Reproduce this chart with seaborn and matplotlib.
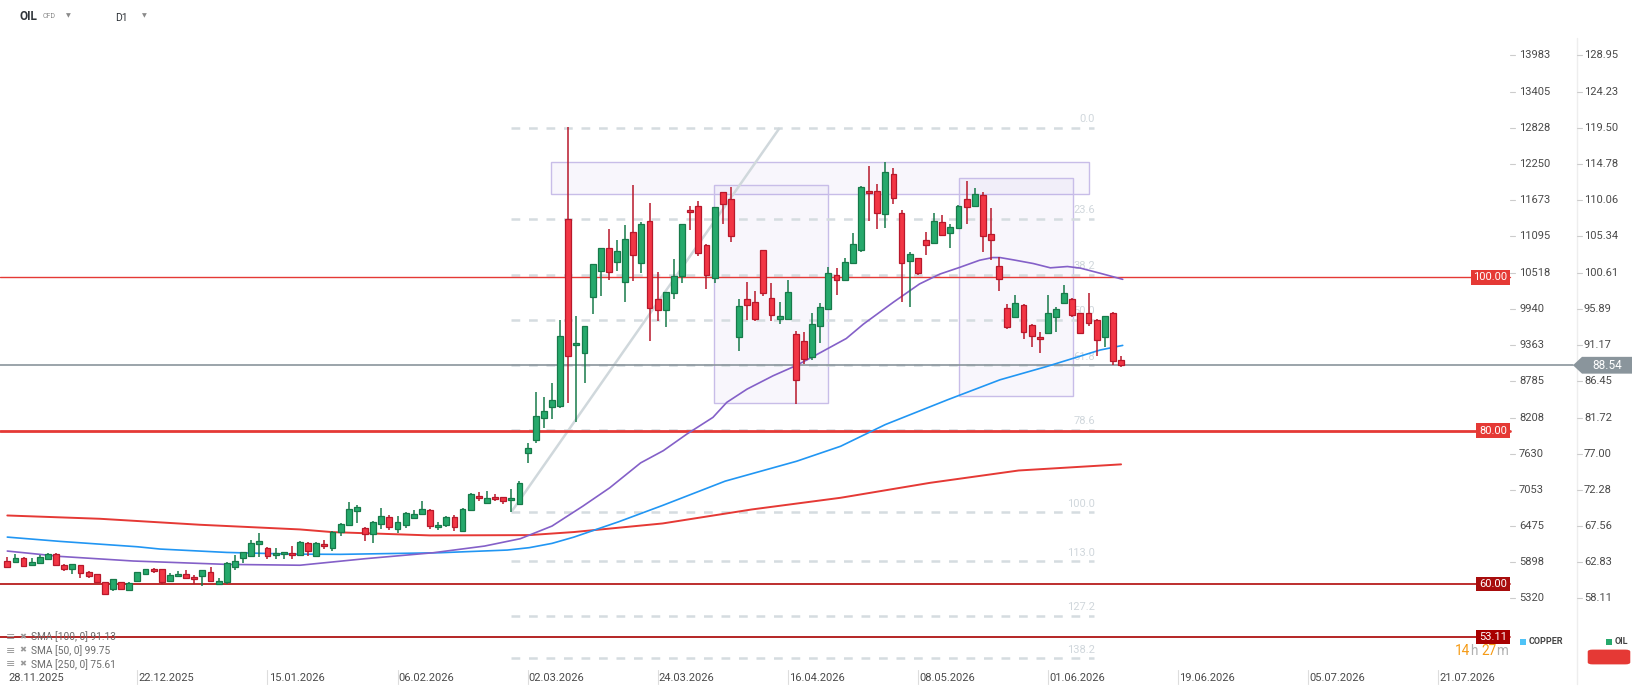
import numpy as np
import pandas as pd
import seaborn as sns
import matplotlib.pyplot as plt
from matplotlib import transforms
from matplotlib.patches import Rectangle, Polygon, FancyBboxPatch

# OIL CFD, daily bars, bar 0 = 28.11.2025
opens = [63.04, 62.91, 63.43, 62.52, 62.78, 63.30, 63.95, 62.52, 61.91, 62.47,
         61.56, 61.30, 60.26, 59.35, 60.26, 59.22, 60.39, 61.30, 61.95, 61.95,
         60.43, 61.04, 61.30, 60.91, 61.04, 61.56, 60.00, 60.22, 62.21, 63.39,
         63.69, 65.21, 64.69, 63.78, 63.91, 64.04, 63.82, 65.39, 63.69, 65.26,
         64.73, 66.82, 67.73, 69.55, 67.34, 66.56, 67.86, 68.77, 67.21, 67.73,
         68.64, 69.16, 69.68, 67.47, 67.73, 68.77, 66.95, 69.68, 71.51, 70.59,
         71.37, 71.37, 70.98, 70.41, 77.14, 78.74, 81.61, 83.04, 83.22, 107.61,
         91.17, 90.13, 97.39, 100.78, 103.83, 101.96, 99.35, 105.91, 101.83, 107.35,
         97.17, 95.74, 97.91, 100.13, 108.78, 109.30, 104.22, 99.87, 111.13, 110.22,
         92.17, 97.17, 96.78, 103.57, 97.30, 94.57, 94.52, 92.61, 91.64, 89.57,
         93.62, 95.91, 100.30, 99.66, 101.85, 103.53, 111.29, 111.29, 108.32, 113.49,
         108.45, 102.11, 102.50, 104.83, 104.44, 107.28, 105.73, 106.38, 110.26, 109.35,
         110.78, 105.60, 101.47, 96.03, 94.87, 96.42, 93.84, 92.28, 92.80, 94.87,
         96.68, 97.20, 95.39, 95.39, 94.48, 92.21, 95.33, 89.23]
highs = [63.48, 63.87, 63.50, 63.43, 63.78, 64.08, 64.00, 62.55, 62.65, 62.50,
         61.74, 61.35, 60.30, 60.70, 60.30, 60.20, 61.60, 62.00, 62.08, 62.00,
         61.48, 61.65, 61.82, 61.17, 61.85, 62.26, 60.78, 62.86, 63.82, 64.20,
         65.77, 66.64, 64.86, 64.69, 64.20, 64.99, 65.60, 65.45, 65.45, 65.78,
         66.90, 67.90, 70.64, 70.25, 67.40, 68.20, 69.86, 69.03, 68.90, 69.35,
         69.60, 70.77, 69.75, 68.12, 68.85, 69.03, 69.90, 71.85, 71.94, 72.07,
         71.77, 71.40, 72.46, 73.45, 78.39, 85.09, 84.43, 86.26, 94.43, 119.57,
         95.00, 93.70, 101.80, 103.90, 106.35, 104.91, 106.87, 112.09, 107.20, 109.74,
         100.70, 98.10, 102.39, 107.00, 109.30, 110.00, 104.30, 109.20, 111.20, 111.83,
         97.17, 99.39, 98.22, 103.60, 99.26, 96.78, 99.65, 93.00, 92.93, 95.39,
         96.72, 101.38, 101.21, 102.50, 105.78, 111.90, 114.57, 112.20, 115.09, 114.31,
         108.84, 103.28, 102.55, 105.86, 108.35, 108.20, 107.03, 109.40, 112.59, 111.68,
         111.12, 109.09, 102.63, 96.55, 97.72, 96.50, 93.90, 92.93, 97.72, 96.16,
         99.00, 97.30, 95.40, 97.97, 94.55, 94.94, 95.50, 89.75]
lows = [62.20, 62.85, 62.35, 62.30, 62.65, 63.25, 62.50, 61.74, 61.30, 60.78,
        60.78, 60.09, 58.65, 59.13, 59.30, 59.05, 60.35, 61.25, 61.48, 60.00,
        60.40, 61.00, 60.61, 60.00, 59.74, 60.22, 59.87, 60.00, 61.82, 62.73,
        63.52, 63.52, 63.26, 63.26, 63.26, 63.26, 63.70, 63.69, 63.60, 64.60,
        64.34, 66.25, 67.70, 67.99, 65.65, 65.39, 67.21, 67.08, 66.69, 67.34,
        68.60, 69.10, 67.21, 67.08, 67.47, 66.95, 66.90, 69.60, 70.85, 70.46,
        70.77, 70.46, 69.42, 70.30, 75.75, 78.35, 80.30, 81.50, 83.00, 83.57,
        81.09, 86.17, 95.22, 97.61, 99.61, 100.87, 96.74, 99.48, 100.52, 91.65,
        94.26, 93.48, 97.13, 99.26, 106.17, 102.74, 98.43, 99.22, 106.96, 104.61,
        90.35, 94.43, 94.26, 97.57, 94.35, 93.91, 94.50, 83.48, 88.71, 89.22,
        91.47, 95.80, 97.67, 99.60, 101.80, 103.30, 107.33, 106.25, 106.47, 109.61,
        96.81, 96.12, 100.30, 102.89, 104.30, 105.35, 103.88, 106.38, 107.03, 109.30,
        103.28, 102.24, 98.23, 93.32, 94.80, 91.90, 90.86, 90.09, 92.67, 92.93,
        96.55, 94.87, 92.67, 93.71, 89.70, 90.92, 88.60, 88.28]
closes = [62.26, 63.43, 62.39, 62.91, 63.56, 63.95, 62.52, 61.91, 62.60, 61.39,
          61.00, 60.26, 58.70, 60.65, 59.35, 60.13, 61.56, 61.95, 61.65, 60.26,
          61.17, 61.30, 60.78, 60.65, 61.82, 60.39, 60.39, 62.73, 62.99, 64.17,
          65.34, 65.60, 63.65, 64.04, 64.17, 63.78, 65.52, 64.34, 65.39, 65.00,
          66.82, 67.86, 69.81, 70.07, 66.56, 68.12, 68.90, 67.47, 68.12, 69.29,
          69.16, 69.81, 67.60, 67.73, 68.77, 67.47, 69.81, 71.77, 71.24, 71.24,
          71.11, 70.85, 71.24, 73.14, 77.79, 81.87, 82.52, 83.95, 92.35, 89.74,
          91.43, 93.65, 101.74, 103.83, 100.65, 103.43, 105.00, 102.87, 106.96, 95.96,
          95.74, 98.04, 100.13, 106.96, 108.52, 103.13, 100.26, 109.17, 109.57, 105.35,
          96.26, 96.39, 94.52, 97.91, 95.04, 94.96, 98.09, 86.61, 89.31, 93.97,
          96.12, 100.56, 99.66, 101.98, 104.31, 111.81, 111.03, 108.45, 113.75, 110.39,
          101.85, 103.02, 100.56, 104.18, 107.41, 105.47, 106.64, 109.35, 109.22, 110.91,
          105.34, 104.83, 99.78, 93.58, 96.68, 92.93, 92.41, 91.90, 95.39, 95.91,
          97.97, 95.13, 92.80, 94.09, 91.77, 94.94, 89.10, 88.54]

# moving averages (bar index, price)
sma50_x = [0, 6.5, 15.5, 27, 36, 44, 52.4, 58.7, 63.1, 67, 70.8, 74.1, 77.9, 80.7,
           83.6, 86.8, 88.5, 91, 94.2, 97, 99.1, 103.2, 105.3, 109, 112.2, 114.7,
           117.1, 119.6, 121.2, 122.1, 123.8, 126.2, 128.3, 130.4, 132, 134.5, 137.2]
sma50_y = [64.30, 63.60, 63.00, 62.56, 62.45, 63.30, 64.08, 64.95, 65.91, 67.56, 70.16,
           72.55, 75.80, 77.40, 79.57, 81.74, 83.70, 85.43, 87.17, 88.48, 89.66, 92.03,
           93.90, 96.77, 99.14, 100.43, 101.29, 102.24, 102.59, 102.59, 102.28, 101.81,
           101.25, 101.42, 101.21, 100.52, 99.75]
sma100_x = [0, 6.5, 16, 18.8, 27, 35, 41, 53.2, 61.5, 64.2, 67, 69.7, 75.2, 80.6,
            88.3, 97.1, 102.5, 108, 115.7, 122.1, 127.8, 134.4, 137.2]
sma100_y = [66.12, 65.56, 64.86, 64.56, 64.12, 63.90, 63.87, 64.08, 64.43, 64.74,
            65.30, 66.12, 68.12, 70.25, 73.42, 76.02, 77.97, 80.80, 84.05, 86.64,
            88.36, 90.52, 91.13]
sma250_x = [0, 11.4, 23.7, 36, 40, 52, 64.2, 69.7, 80.6, 91.6, 102.5, 113.5, 124.4, 137]
sma250_y = [68.94, 68.51, 67.73, 67.12, 66.77, 66.34, 66.38, 66.78, 67.90, 69.73,
            71.25, 73.20, 74.81, 75.61]

# drawings on the chart
levels = [100.00, 80.00, 60.00, 53.11]
last_price = 88.54
fib_labels = ["0.0", "23.6", "38.2", "50.0", "61.8", "78.6", "100.0", "113.0", "127.2", "138.2"]
fib_prices = [119.50, 107.67, 100.35, 94.45, 88.55, 80.10, 69.40, 62.95, 55.85, 50.35]
fib_trend_x = [62, 95]
fib_trend_y = [69.40, 119.50]
zones = [(66.9, 133.1, 110.84, 115.02), (86.96, 101.0, 83.57, 112.02), (117.1, 131.1, 84.55, 112.93)]

oil_ticks = [128.95, 124.23, 119.50, 114.78, 110.06, 105.34, 100.61, 95.89, 91.17,
             86.45, 81.72, 77.00, 72.28, 67.56, 62.83, 58.11]
copper_ticks = [13983, 13405, 12828, 12250, 11673, 11095, 10518, 9940, 9363, 8785,
                8208, 7630, 7053, 6475, 5898, 5320]
date_pos = [0, 16, 32, 48, 64, 80, 96, 112, 128, 144, 160, 176]
date_labels = ["28.11.2025", "22.12.2025", "15.01.2026", "06.02.2026", "02.03.2026",
               "24.03.2026", "16.04.2026", "08.05.2026", "01.06.2026", "19.06.2026",
               "05.07.2026", "21.07.2026"]

sns.set_theme(style="white")
plt.rcParams['font.family'] = ['Roboto', 'DejaVu Sans']

W, H = 1643, 696
fig = plt.figure(figsize=(W / 100, H / 100), dpi=100)
ax = fig.add_axes([0, 0, 1, 1])
ax.set_xlim(-0.898, 201.2)
ax.set_ylim(45.39, 136.19)
ax.axis('off')

def fx(px):
    return px / W

def fy(py):
    return 1 - py / H

ty = transforms.blended_transform_factory(fig.transFigure, ax.transData)
tx = transforms.blended_transform_factory(ax.transData, fig.transFigure)

# zones
for x0, x1, y0, y1 in zones:
    ax.add_patch(Rectangle((x0, y0), x1 - x0, y1 - y0, facecolor=(0.55, 0.45, 0.85, 0.06),
                           edgecolor='#c8bde8', lw=1, zorder=1))

# fibonacci
fib_x0, fib_x1 = 62, 133.7
for lab, p in zip(fib_labels, fib_prices):
    ax.plot([fib_x0, fib_x1], [p, p], color='#d5dce0', lw=1.8, dashes=(3.5, 3.5), zorder=2)
    ax.text(fib_x1 + 0.1, p + 0.45, lab, color='#d0d7dc', fontsize=8, ha='right', va='bottom', zorder=2)
ax.plot(fib_trend_x, fib_trend_y, color='#d0d8dc', lw=1.8, zorder=2, solid_capstyle='butt')

# horizontal levels
lvl_style = {100.00: ('#e53935', 1.0, '#e53935', 1471),
             80.00: ('#e53935', 2.0, '#e53935', 1476),
             60.00: ('#b71c1c', 1.3, '#a80d0d', 1476),
             53.11: ('#a80000', 1.2, '#a80000', 1476)}
for lv in levels:
    c, lw, bc, left = lvl_style[lv]
    ax.plot([0, 1510 / W], [lv, lv], color=c, lw=lw, transform=ty, zorder=2.5, clip_on=False)
    ax.add_patch(Rectangle((fx(left), lv - 0.95), fx(1510 - left), 1.9, transform=ty,
                           facecolor=bc, edgecolor='none', zorder=6, clip_on=False))
    ax.text(fx((left + 1510) / 2), lv, f"{lv:.2f}", transform=ty, color='white',
            fontsize=8, ha='center', va='center', zorder=7)

ax.plot([0, 1573 / W], [last_price, last_price], color='#8a959c', lw=1.2, transform=ty, zorder=2.5)
hh = 8.4 / 7.665
ax.add_patch(Polygon([(fx(1573), last_price), (fx(1582), last_price + hh), (fx(1632), last_price + hh),
                      (fx(1632), last_price - hh), (fx(1582), last_price - hh)], closed=True,
                     transform=ty, facecolor='#8a959c', edgecolor='none', zorder=6))
ax.text(fx(1607), last_price, f"{last_price:.2f}", transform=ty, color='white', fontsize=8.5,
        ha='center', va='center', zorder=7)

# moving averages
sns.lineplot(x=sma250_x, y=sma250_y, ax=ax, color='#e53935', lw=1.4, sort=False, zorder=2.6, legend=False)
sns.lineplot(x=sma100_x, y=sma100_y, ax=ax, color='#2196f3', lw=1.2, sort=False, zorder=2.6, legend=False)
sns.lineplot(x=sma50_x, y=sma50_y, ax=ax, color='#8460c8', lw=1.2, sort=False, zorder=2.6, legend=False)
ax.set_xlim(-0.898, 201.2)
ax.set_ylim(45.39, 136.19)

# candles
o = np.array(opens); h = np.array(highs); l = np.array(lows); c = np.array(closes)
x = np.arange(len(o))
up = c >= o
dn = ~up
ax.vlines(x[up], l[up], h[up], color='#177a4a', lw=1.1, zorder=3)
ax.vlines(x[dn], l[dn], h[dn], color='#b8182b', lw=1.1, zorder=3)
ax.bar(x[up], np.maximum(c[up] - o[up], 0.15), bottom=o[up], width=0.72,
       color='#26a96c', edgecolor='#177a4a', lw=0.9, zorder=4)
ax.bar(x[dn], np.maximum(o[dn] - c[dn], 0.15), bottom=c[dn], width=0.72,
       color='#f23645', edgecolor='#b8182b', lw=0.9, zorder=4)

# right price scales
ax.plot([fx(1577), fx(1577)], [fy(684), fy(38)], transform=fig.transFigure, color='#eeeeee', lw=1, zorder=1)
for cp, op in zip(copper_ticks, oil_ticks):
    ax.plot([fx(1510), fx(1515)], [op, op], transform=ty, color='#cccccc', lw=0.8, clip_on=False)
    ax.plot([fx(1577), fx(1582)], [op, op], transform=ty, color='#cccccc', lw=0.8, clip_on=False)
    ax.text(fx(1519), op, f"{cp}", transform=ty, color='#4a4a4a', fontsize=8, ha='left', va='center')
    if abs(op - last_price) > 1.5:
        ax.text(fx(1584), op, f"{op:.2f}", transform=ty, color='#4a4a4a', fontsize=8, ha='left', va='center')

# date axis
for pos, lab in zip(date_pos, date_labels):
    if pos > 0:
        ax.plot([pos, pos], [fy(670), fy(684)], transform=tx, color='#dddddd', lw=0.8, clip_on=False)
    ax.text(pos + 0.15, fy(678), lab, transform=tx, color='#4a4a4a', fontsize=8, ha='left', va='center')

# header
fig.text(fx(20), fy(17), "OIL", fontsize=8.5, weight='bold', color='#2f3439', va='center')
fig.text(fx(43), fy(17), "CFD", fontsize=5, color='#8a8a8a', va='center')
fig.text(fx(66), fy(16), "▼", fontsize=4.5, color='#8a8a8a', va='center')
fig.text(fx(115), fy(18), "D1", fontsize=7.5, color='#2f3439', va='center')
fig.text(fx(142), fy(16), "▼", fontsize=4.5, color='#8a8a8a', va='center')

# indicator legend
for i, (name, val) in enumerate([("SMA [100, 0]", "91.13"), ("SMA [50, 0]", "99.75"), ("SMA [250, 0]", "75.61")]):
    yy = fy(637 + 13.6 * i)
    fig.text(fx(6), yy, "≡", fontsize=8, color='#999999', va='center')
    fig.text(fx(19), yy, "✖", fontsize=6, color='#999999', va='center')
    fig.text(fx(31), yy, f"{name} {val}", fontsize=7.3, color='#6b6b6b', va='center')

# timer
fig.text(fx(1455), fy(651), "14", fontsize=9.8, color='#f59b16', va='center')
fig.text(fx(1470), fy(651), "h", fontsize=9.8, color='#b0b0b0', va='center')
fig.text(fx(1481), fy(651), "27", fontsize=9.8, color='#f59b16', va='center')
fig.text(fx(1496), fy(651), "m", fontsize=9.8, color='#b0b0b0', va='center')

# series legend
fig.patches.append(Rectangle((fx(1520), fy(645)), fx(6), 6 / H, transform=fig.transFigure,
                             facecolor='#4fc3f7', edgecolor='none'))
fig.text(fx(1529), fy(641.5), "COPPER", fontsize=6.5, weight='bold', color='#444444', va='center')
fig.patches.append(Rectangle((fx(1606), fy(645)), fx(6), 6 / H, transform=fig.transFigure,
                             facecolor='#26a96c', edgecolor='none'))
fig.text(fx(1615), fy(641.5), "OIL", fontsize=6.5, weight='bold', color='#444444', va='center')
fig.patches.append(FancyBboxPatch((fx(1591), fy(663)), fx(36), 12 / H, transform=fig.transFigure,
                                  boxstyle='round,pad=0.002,rounding_size=0.003',
                                  facecolor='#e53935', edgecolor='none'))

fig.savefig('out.png', dpi=100)
